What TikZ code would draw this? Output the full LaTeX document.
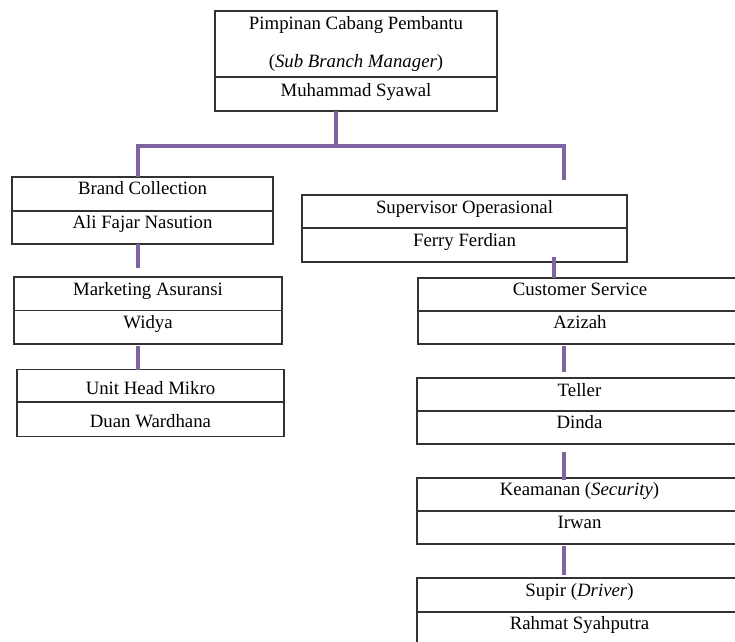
\documentclass[tikz,border=0pt]{standalone}
\usepackage{fontspec}
\setmainfont{Liberation Serif}
\definecolor{conncol}{RGB}{128,100,162}
\definecolor{boxcol}{RGB}{50,50,50}
\begin{document}
\begin{tikzpicture}[x=1pt,y=-1pt,
  box/.style={draw=boxcol,line width=1.3pt,rectangle,inner sep=0pt,outer sep=0pt,anchor=north west,fill=none},
  divline/.style={draw=boxcol,line width=1.3pt},
  lbl/.style={anchor=base,inner sep=0pt,font=\fontsize{18.8}{22}\selectfont},
  conn/.style={draw=conncol,line width=4.5pt,line join=miter}]
\useasboundingbox (0,0) rectangle (735,641);
\clip (0,0) rectangle (735,641);
\fill[white] (0,0) rectangle (735,641);

% top box
\node[box,minimum width=282pt,minimum height=100pt] (top) at (215,11) {};
\draw[divline] (top.west |- 0,77) -- (top.east |- 0,77);
\node[lbl] (top1) at (356,29) {Pimpinan Cabang Pembantu};
\node[lbl] (top2) at (356,67) {(\textit{Sub Branch Manager})};
\node[lbl] (top3) at (356,96) {Muhammad Syawal};

% Brand Collection
\node[box,minimum width=261pt,minimum height=67pt] (bc) at (12,177) {};
\draw[divline] (bc.west |- 0,211) -- (bc.east |- 0,211);
\node[lbl] (bc1) at (142.5,194) {Brand Collection};
\node[lbl] (bc2) at (142.5,228) {Ali Fajar Nasution};

% Marketing Asuransi
\node[box,minimum width=268pt,minimum height=67pt] (ma) at (14,277) {};
\draw[divline] (ma.west |- 0,310.5) -- (ma.east |- 0,310.5);
\node[lbl] (ma1) at (148,295) {Marketing Asuransi};
\node[lbl] (ma2) at (148,328) {Widya};

% Unit Head Mikro
\node[box,minimum width=267pt,minimum height=67pt] (uh) at (17,369.5) {};
\draw[divline] (uh.west |- 0,402) -- (uh.east |- 0,402);
\node[lbl] (uh1) at (150.5,394) {Unit Head Mikro};
\node[lbl] (uh2) at (150.5,427) {Duan Wardhana};

% Supervisor Operasional
\node[box,minimum width=325pt,minimum height=67pt] (so) at (302,195) {};
\draw[divline] (so.west |- 0,228) -- (so.east |- 0,228);
\node[lbl] (so1) at (464.5,213) {Supervisor Operasional};
\node[lbl] (so2) at (464.5,246) {Ferry Ferdian};

% Customer Service
\node[box,minimum width=324pt,minimum height=66pt] (cs) at (418,278) {};
\draw[divline] (cs.west |- 0,311) -- (cs.east |- 0,311);
\node[lbl] (cs1) at (580,295) {Customer Service};
\node[lbl] (cs2) at (580,328) {Azizah};

% Teller
\node[box,minimum width=325pt,minimum height=66pt] (te) at (417,378) {};
\draw[divline] (te.west |- 0,411) -- (te.east |- 0,411);
\node[lbl] (te1) at (579.5,396) {Teller};
\node[lbl] (te2) at (579.5,428) {Dinda};

% Keamanan
\node[box,minimum width=325pt,minimum height=66pt] (ke) at (417,478) {};
\draw[divline] (ke.west |- 0,511) -- (ke.east |- 0,511);
\node[lbl] (ke1) at (579.5,495) {Keamanan (\textit{Security})};
\node[lbl] (ke2) at (579.5,528) {Irwan};

% Supir
\node[box,minimum width=325pt,minimum height=80pt] (su) at (417,578) {};
\draw[divline] (su.west |- 0,612) -- (su.east |- 0,612);
\node[lbl] (su1) at (579.5,596) {Supir (\textit{Driver})};
\node[lbl] (su2) at (579.5,629) {Rahmat Syahputra};

% connector coordinates
\coordinate (tA) at (336,111);
\coordinate (tB) at (336,146);
\coordinate (hL) at (138,146);
\coordinate (hR) at (564,146);
\coordinate (dL) at (138,177);
\coordinate (dR) at (564,180);
\coordinate (bm1) at (138,244);
\coordinate (bm2) at (138,268);
\coordinate (mu1) at (138,346);
\coordinate (mu2) at (138,370);
\coordinate (sc1) at (554,257);
\coordinate (sc2) at (554,278);
\coordinate (ct1) at (564,346);
\coordinate (ct2) at (564,372);
\coordinate (tk1) at (564,452);
\coordinate (tk2) at (564,480);
\coordinate (ks1) at (564,546);
\coordinate (ks2) at (564,575);

\draw[conn] (tA) -- (tB);
\draw[conn] (dL) -- (hL) -- (hR) -- (dR);
\draw[conn] (bm1) -- (bm2);
\draw[conn] (mu1) -- (mu2);
\draw[conn] (sc1) -- (sc2);
\draw[conn] (ct1) -- (ct2);
\draw[conn] (tk1) -- (tk2);
\draw[conn] (ks1) -- (ks2);
\end{tikzpicture}
\end{document}
